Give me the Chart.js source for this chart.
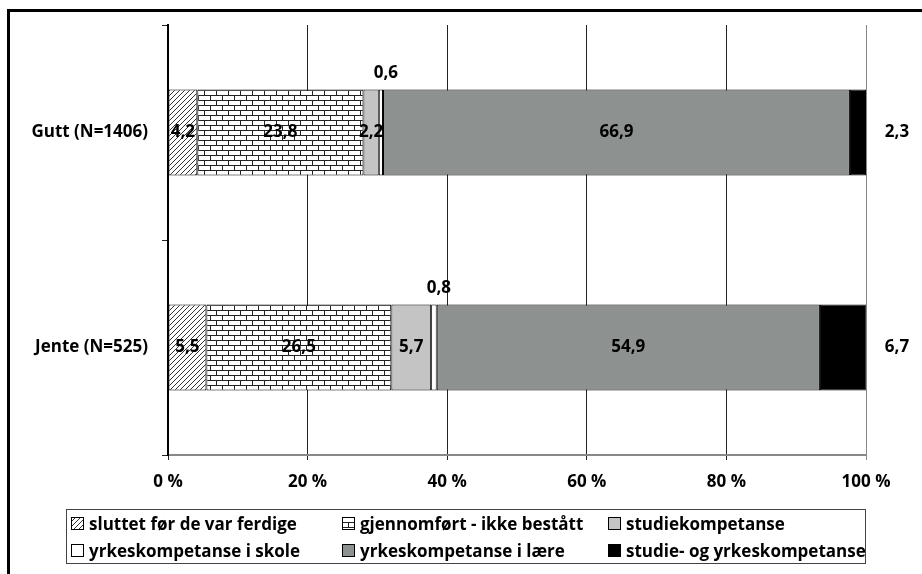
<!DOCTYPE html>
<html>
<head>
<meta charset="utf-8">
<title>Gutt og jente</title>
<script src="https://cdn.jsdelivr.net/npm/chart.js"></script>
<style>
  body { margin: 0; background: #fff; font-family: "Open Sans", sans-serif; }
  .wrap { position: relative; width: 922px; height: 574px; overflow: hidden; }
  .frame { position: absolute; left: 7px; top: 9px; width: 940px; height: 600px;
           border-top: 3px solid #000; border-left: 3px solid #000; }
  canvas { position: absolute; left: 0; top: 0; }
  .legend { position: absolute; left: 66px; top: 509px; width: 798px; height: 53px;
            border: 1px solid #444; display: grid; grid-template-columns: 271px 266px 261px;
            grid-template-rows: 27px 26px; font-weight: bold; font-size: 17px; }
  .legend div { display: flex; align-items: center; padding-left: 4px; white-space: nowrap; }
  .legend canvas { position: static; margin-right: 5px; }
</style>
</head>
<body>
<div class="wrap">
  <div class="frame"></div>
  <canvas id="chart" width="922" height="574"></canvas>
  <div class="legend" id="legend"></div>
</div>
<script>
  const categories = ['Gutt (N=1406)', 'Jente (N=525)'];
  const seriesNames = ['sluttet før de var ferdige', 'gjennomført - ikke bestått', 'studiekompetanse',
                       'yrkeskompetanse i skole', 'yrkeskompetanse i lære', 'studie- og yrkeskompetanse'];
  const sluttet = [4.2, 5.5];
  const gjennomfort = [23.8, 26.5];
  const studie = [2.2, 5.7];
  const yrkesSkole = [0.6, 0.8];
  const yrkesLaere = [66.9, 54.9];
  const studieYrkes = [2.3, 6.7];
  const xTicks = [0, 20, 40, 60, 80, 100];

  const FONT = '"Open Sans", sans-serif';

  // fills
  function hatch() {
    const c = document.createElement('canvas');
    c.width = 5; c.height = 5;
    const g = c.getContext('2d');
    g.fillStyle = '#fff'; g.fillRect(0, 0, 5, 5);
    g.strokeStyle = '#333'; g.lineWidth = 1;
    g.beginPath();
    g.moveTo(-1, 6); g.lineTo(6, -1);
    g.moveTo(-1, 1); g.lineTo(1, -1);
    g.moveTo(4, 6); g.lineTo(6, 4);
    g.stroke();
    return g.createPattern(c, 'repeat');
  }
  function brick() {
    const c = document.createElement('canvas');
    c.width = 12; c.height = 10;
    const g = c.getContext('2d');
    g.fillStyle = '#fff'; g.fillRect(0, 0, 12, 10);
    g.fillStyle = '#222';
    g.fillRect(0, 0, 12, 1);
    g.fillRect(0, 5, 12, 1);
    g.fillRect(0, 0, 1, 5);
    g.fillRect(6, 5, 1, 5);
    return g.createPattern(c, 'repeat');
  }
  const fills = [hatch(), brick(), '#c4c4c4', '#ffffff', '#8d918f', '#000000'];
  const values = [sluttet, gjennomfort, studie, yrkesSkole, yrkesLaere, studieYrkes];

  const datasets = seriesNames.map((name, i) => ({
    label: name,
    data: values[i],
    backgroundColor: fills[i],
    borderColor: '#000',
    borderWidth: 1,
    borderSkipped: false
  }));

  const fmt = v => String(v).replace('.', ',');

  const labelPlugin = {
    id: 'labels',
    afterDatasetsDraw(chart) {
      const ctx = chart.ctx;
      ctx.save();
      ctx.font = 'bold 17px ' + FONT;
      ctx.fillStyle = '#000';
      ctx.textAlign = 'center';
      ctx.textBaseline = 'middle';
      const last = chart.data.datasets.length - 1;
      chart.data.datasets.forEach((ds, di) => {
        chart.getDatasetMeta(di).data.forEach((bar, i) => {
          const p = bar.getProps(['x', 'y', 'base', 'height'], true);
          const mid = (p.x + p.base) / 2;
          let x = mid, y = p.y;
          if (di === 3) { y = p.y - p.height / 2 - 16; x = mid + 5; }
          else if (di === last) { x = chart.chartArea.right + 31; }
          ctx.fillText(fmt(ds.data[i]), x, y);
        });
      });
      ctx.restore();
    }
  };

  new Chart(document.getElementById('chart'), {
    type: 'bar',
    data: { labels: categories, datasets },
    options: {
      indexAxis: 'y',
      responsive: false,
      animation: false,
      layout: { padding: { top: 25, right: 56, left: 0, bottom: 0 } },
      plugins: { legend: { display: false }, tooltip: { enabled: false } },
      datasets: { bar: { categoryPercentage: 1, barPercentage: 0.4 } },
      scales: {
        x: {
          stacked: true, min: 0, max: 100,
          afterFit: s => { s.height = 119; },
          afterBuildTicks: s => { s.ticks = xTicks.map(v => ({ value: v })); },
          ticks: { callback: v => v + ' %', padding: 12, color: '#000',
                   font: { family: FONT, size: 17, weight: 'bold' } },
          grid: { color: c => c.tick && c.tick.value === 100 ? '#888' : '#222',
                  tickLength: 5, lineWidth: 1 },
          border: { color: '#888', width: 2 }
        },
        y: {
          stacked: true,
          afterFit: s => { s.width = 168; },
          ticks: { padding: 14, color: '#000', font: { family: FONT, size: 17, weight: 'bold' } },
          grid: { offset: true, drawOnChartArea: false, tickLength: 6, color: '#222' },
          border: { color: '#000', width: 2 }
        }
      }
    },
    plugins: [labelPlugin]
  });

  // legend in three columns
  const legend = document.getElementById('legend');
  seriesNames.forEach((name, i) => {
    const item = document.createElement('div');
    const sw = document.createElement('canvas');
    sw.width = 13; sw.height = 13;
    const g = sw.getContext('2d');
    g.fillStyle = fills[i]; g.fillRect(0, 0, 13, 13);
    g.strokeStyle = '#000'; g.lineWidth = 1; g.strokeRect(0.5, 0.5, 12, 12);
    item.appendChild(sw);
    item.appendChild(document.createTextNode(name));
    legend.appendChild(item);
  });
</script>
</body>
</html>
